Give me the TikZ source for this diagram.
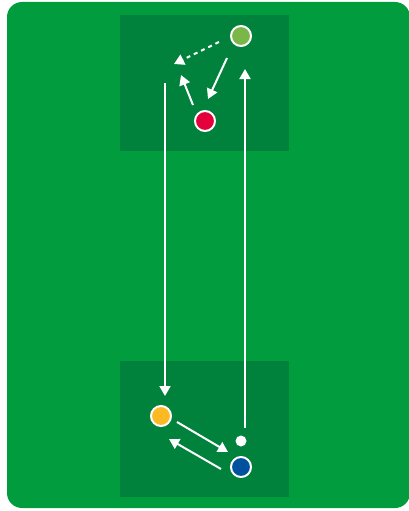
\documentclass[tikz,border=0pt]{standalone}
\usetikzlibrary{arrows.meta}
\definecolor{field}{RGB}{0,156,62}
\definecolor{zone}{RGB}{0,130,60}
\definecolor{pgreen}{RGB}{122,182,72}
\definecolor{pred}{RGB}{228,0,58}
\definecolor{pyellow}{RGB}{251,186,36}
\definecolor{pblue}{RGB}{0,80,160}
\tikzset{
  player/.style={circle,draw=white,line width=2pt,minimum size=20pt,inner sep=0pt},
  ball/.style={circle,fill=white,minimum size=11pt,inner sep=0pt},
  pass/.style={draw=white,line width=2pt,-{Triangle[length=10pt,width=11pt]}},
  run/.style={pass,dash pattern=on 4pt off 4pt}
}
\begin{document}
\begin{tikzpicture}[x=1pt,y=-1pt]
\useasboundingbox (0,0) rectangle (408,511);
\fill[field,rounded corners=15pt] (7,2) rectangle (410,508);
\fill[zone] (120,15) rectangle (289,151);
\fill[zone] (120,361) rectangle (289,497);
\node[player,fill=pgreen] (g) at (241,36) {};
\node[player,fill=pred] (r) at (205,121) {};
\node[player,fill=pyellow] (y) at (161,416) {};
\node[player,fill=pblue] (b) at (241,467) {};
\node[ball] (w) at (241,441) {};
\coordinate (d1) at (219,42);
\coordinate (d2) at (174,64);
\coordinate (gr1) at (227,58);
\coordinate (gr2) at (208,99);
\coordinate (ru1) at (193,105);
\coordinate (ru2) at (181,75);
\coordinate (l1) at (165,83);
\coordinate (l2) at (165,396);
\coordinate (v1) at (245,428);
\coordinate (v2) at (245,69);
\coordinate (yw1) at (177,422);
\coordinate (yw2) at (228,452);
\coordinate (by1) at (221,469);
\coordinate (by2) at (169,439);
\draw[run] (d1) -- (d2);
\draw[pass] (gr1) -- (gr2);
\draw[pass] (ru1) -- (ru2);
\draw[pass] (l1) -- (l2);
\draw[pass] (v1) -- (v2);
\draw[pass] (yw1) -- (yw2);
\draw[pass] (by1) -- (by2);
\end{tikzpicture}
\end{document}
